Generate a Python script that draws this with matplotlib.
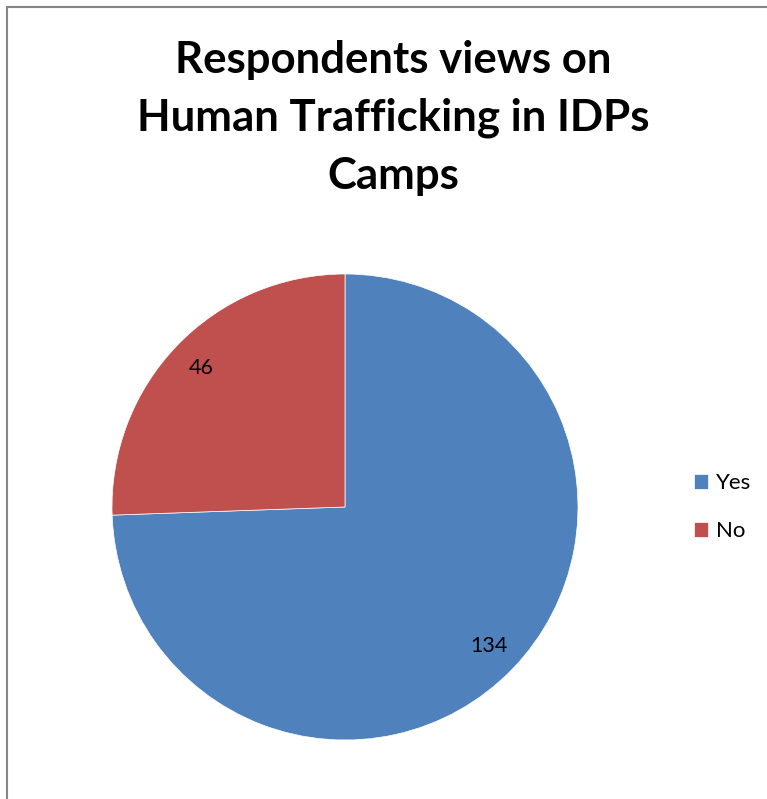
import numpy as np
import matplotlib.pyplot as plt
from matplotlib.patches import Rectangle

labels = ["Yes", "No"]
counts = [134, 46]
colors = ["#4F81BD", "#C0504D"]
title = "Respondents views on\nHuman Trafficking in IDPs\nCamps"

plt.rcParams["font.family"] = ["Lato", "DejaVu Sans"]

W, H = 767, 799
fig = plt.figure(figsize=(W / 100, H / 100), dpi=100)

# chart border (right/bottom run off the picture)
fig.patches.append(Rectangle((7 / W, -0.01), 1.02, 1 - 7 / H + 0.01,
                             transform=fig.transFigure, fill=False,
                             edgecolor="#868686", linewidth=1.5))

# pie axes: centre (345, 507), radius 233 px
r = 233
cx, cy = 345, 507
ax = fig.add_axes([(cx - r) / W, 1 - (cy + r) / H, 2 * r / W, 2 * r / H])
wedges, _ = ax.pie(counts, colors=colors, startangle=90, counterclock=False,
                   wedgeprops=dict(edgecolor="white", linewidth=0.5))
ax.set_xlim(-1, 1)
ax.set_ylim(-1, 1)
ax.set_aspect("equal")

for w, c in zip(wedges, counts):
    mid = np.deg2rad((w.theta1 + w.theta2) / 2)
    ax.text(0.86 * np.cos(mid), 0.86 * np.sin(mid), str(c),
            ha="center", va="center", fontsize=15.5, color="black")

fig.text(393 / W, 1 - 118 / H, title, ha="center", va="center",
         fontsize=31.5, fontweight="bold", linespacing=1.55)

fig.legend(wedges, labels, loc="center left", bbox_to_anchor=(674 / W, 1 - 507 / H),
           frameon=False, fontsize=16, handlelength=0.65, handleheight=0.65,
           handletextpad=0.35, labelspacing=1.25)

fig.savefig("out.png", dpi=100)
